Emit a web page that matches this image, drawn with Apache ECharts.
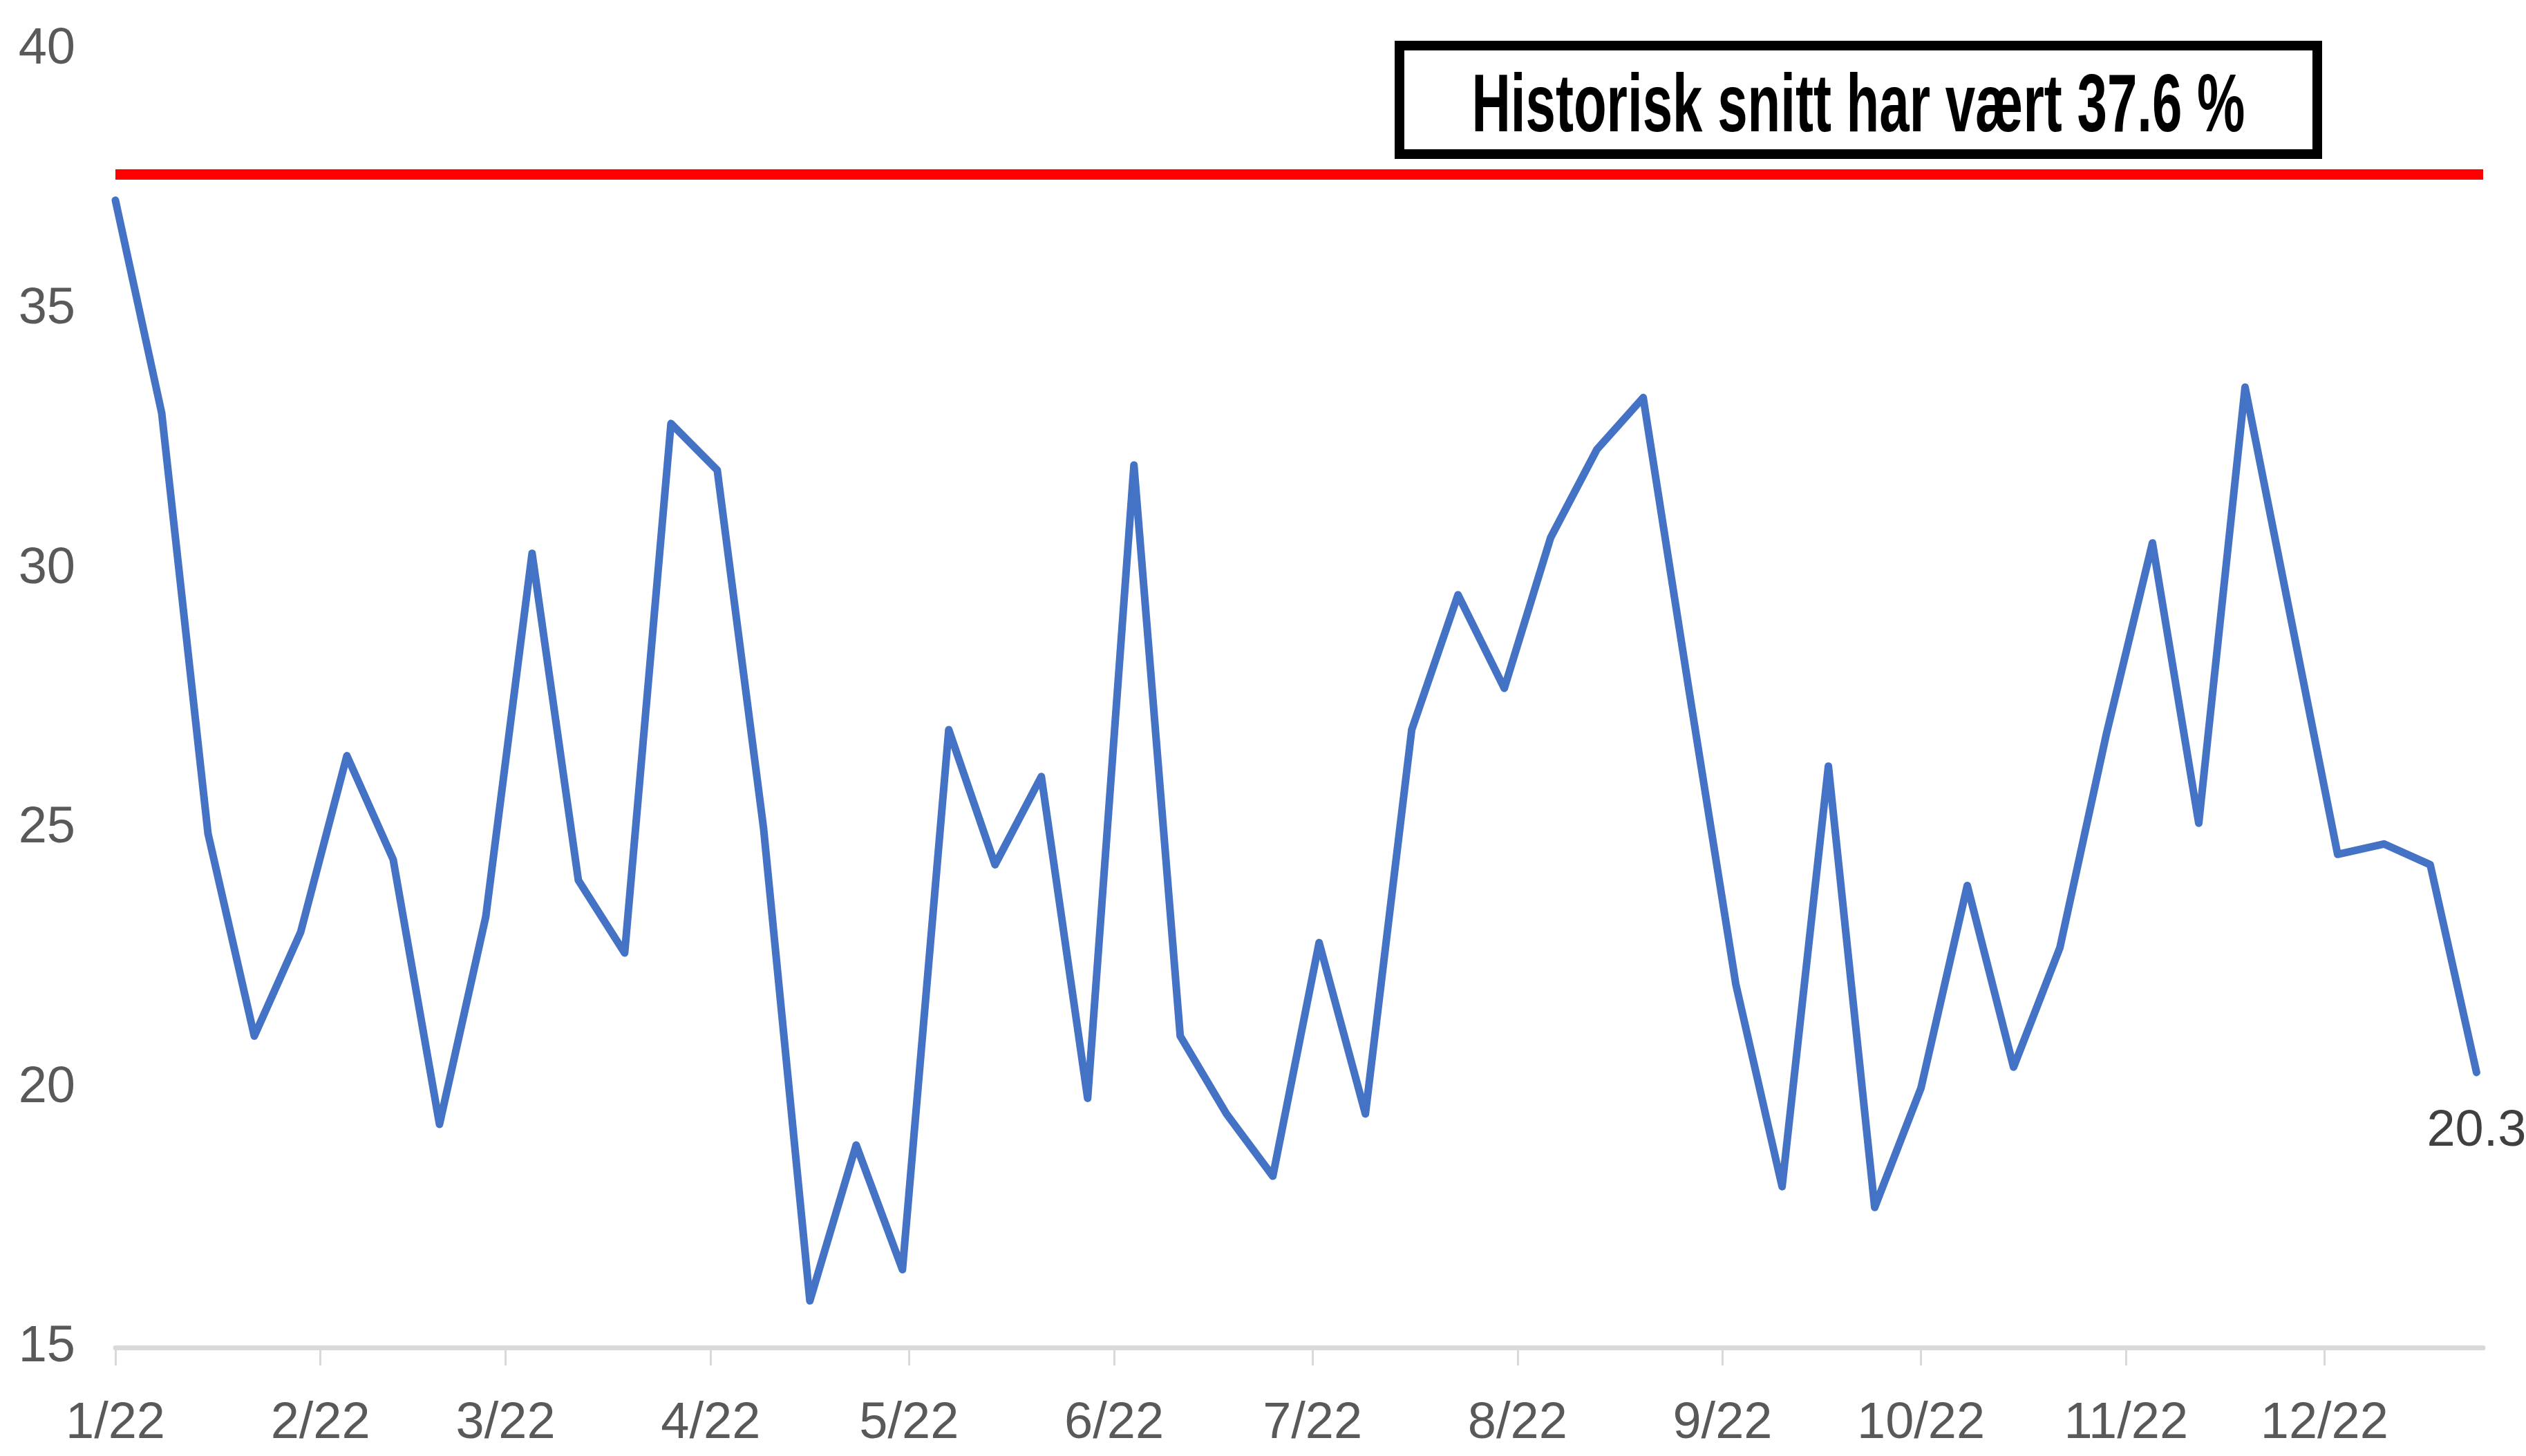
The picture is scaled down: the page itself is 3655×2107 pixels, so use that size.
<!DOCTYPE html>
<html>
<head>
<meta charset="utf-8">
<script src="https://cdn.jsdelivr.net/npm/echarts@6/dist/echarts.min.js"></script>
<style>
  html, body { margin: 0; padding: 0; background: #fff; }
  #main { width: 3655px; height: 2107px; }
</style>
</head>
<body>
<div id="main"></div>
<script>
// ukentlige observasjoner 2022
var weekDates = [
    '2022-01-01', '2022-01-08', '2022-01-15', '2022-01-22', '2022-01-29',
    '2022-02-05', '2022-02-12', '2022-02-19', '2022-02-26',
    '2022-03-05', '2022-03-12', '2022-03-19', '2022-03-26',
    '2022-04-02', '2022-04-09', '2022-04-16', '2022-04-23', '2022-04-30',
    '2022-05-07', '2022-05-14', '2022-05-21', '2022-05-28',
    '2022-06-04', '2022-06-11', '2022-06-18', '2022-06-25',
    '2022-07-02', '2022-07-09', '2022-07-16', '2022-07-23', '2022-07-30',
    '2022-08-06', '2022-08-13', '2022-08-20', '2022-08-27',
    '2022-09-03', '2022-09-10', '2022-09-17', '2022-09-24',
    '2022-10-01', '2022-10-08', '2022-10-15', '2022-10-22', '2022-10-29',
    '2022-11-05', '2022-11-12', '2022-11-19', '2022-11-26',
    '2022-12-03', '2022-12-10', '2022-12-17', '2022-12-24'
];
var weekValues = [
    37.1, 33.0, 24.9, 21.0, 23.0,
    26.4, 24.4, 19.3, 23.3,
    30.3, 24.0, 22.6, 32.8,
    31.9, 25.0, 15.9, 18.9, 16.5,
    26.9, 24.3, 26.0, 19.8,
    32.0, 21.0, 19.5, 18.3,
    22.8, 19.5, 26.9, 29.5, 27.7,
    30.6, 32.3, 33.3, 27.6,
    22.0, 18.1, 26.2, 17.7,
    20.0, 23.9, 20.4, 22.7, 26.8,
    30.5, 25.1, 33.5, 29.0,
    24.5, 24.7, 24.3, 20.3
];
var historicalAvg = 37.6;

// x-akse: månedsstart
var monthTicks = [
    '2022-01-01', '2022-02-01', '2022-03-01', '2022-04-01', '2022-05-01', '2022-06-01',
    '2022-07-01', '2022-08-01', '2022-09-01', '2022-10-01', '2022-11-01', '2022-12-01'
];
var monthLabels = ['1/22', '2/22', '3/22', '4/22', '5/22', '6/22', '7/22', '8/22', '9/22', '10/22', '11/22', '12/22'];
var axisStart = '2022-01-01';
var axisEnd = '2022-12-25';

var fontFam = '"Liberation Sans Narrow", "Arial Narrow", "Liberation Sans", sans-serif';

// dato -> dagnummer fra aksestart
function dayNo(s) {
    var p = s.split('-');
    var a = axisStart.split('-');
    var t = Date.UTC(+p[0], +p[1] - 1, +p[2]) - Date.UTC(+a[0], +a[1] - 1, +a[2]);
    return Math.round(t / 86400000);
}

var tickDays = monthTicks.map(dayNo);

var seriesData = [];
for (var i = 0; i < weekDates.length; i++) {
    var item = { value: [dayNo(weekDates[i]), weekValues[i]] };
    if (i === weekDates.length - 1) {
        item.label = {
            show: true,
            position: 'bottom',
            distance: 48,
            color: '#404040',
            fontSize: 74,
            fontFamily: fontFam,
            formatter: function (p) { return String(p.value[1]); }
        };
    }
    seriesData.push(item);
}

// boks-tekst, strekkes til riktig bredde
var noteText = 'Historisk snitt har vært ' + historicalAvg + ' %';
var noteFont = 'bold 118px ' + fontFam;
var ctx = document.createElement('canvas').getContext('2d');
ctx.font = noteFont;
var noteScale = 1119 / ctx.measureText(noteText).width;

var chart = echarts.init(document.getElementById('main'));
var option = {
    backgroundColor: '#ffffff',
    animation: false,
    grid: {
        left: 167,
        right: 62,
        top: 72,
        bottom: 157,
        containLabel: false,
        outerBoundsMode: 'none'
    },
    xAxis: {
        type: 'value',
        min: 0,
        max: dayNo(axisEnd),
        axisLine: { show: true, lineStyle: { color: '#d9d9d9', width: 7 } },
        axisTick: {
            show: true,
            length: 26,
            customValues: tickDays,
            lineStyle: { color: '#d9d9d9', width: 3 }
        },
        axisLabel: {
            customValues: tickDays,
            margin: 74,
            color: '#595959',
            fontSize: 74,
            fontFamily: fontFam,
            formatter: function (v) {
                var k = tickDays.indexOf(Math.round(v));
                return k >= 0 ? monthLabels[k] : '';
            }
        },
        splitLine: { show: false }
    },
    yAxis: {
        type: 'value',
        min: 15,
        max: 40,
        interval: 5,
        axisLine: { show: false },
        axisTick: { show: false },
        splitLine: { show: false },
        axisLabel: {
            margin: 58,
            color: '#595959',
            fontSize: 74,
            fontFamily: fontFam
        }
    },
    series: [{
        type: 'line',
        data: seriesData,
        showSymbol: true,
        symbol: 'circle',
        symbolSize: 1,
        itemStyle: { color: '#4472c4' },
        lineStyle: { color: '#4472c4', width: 11, join: 'round', cap: 'round' },
        silent: true,
        markLine: {
            silent: true,
            symbol: 'none',
            label: { show: false },
            lineStyle: { color: '#ff0000', width: 15, type: 'solid' },
            data: [{ yAxis: historicalAvg }]
        }
    }],
    graphic: [{
        type: 'group',
        children: [{
            type: 'rect',
            shape: { x: 2025, y: 66, width: 1328, height: 157 },
            style: { fill: '#ffffff', stroke: '#000000', lineWidth: 14 }
        }, {
            type: 'text',
            x: 2689,
            y: 157,
            scaleX: noteScale,
            style: {
                text: noteText,
                font: noteFont,
                fill: '#000000',
                align: 'center',
                verticalAlign: 'middle'
            }
        }]
    }]
};
chart.setOption(option);
</script>
</body>
</html>
